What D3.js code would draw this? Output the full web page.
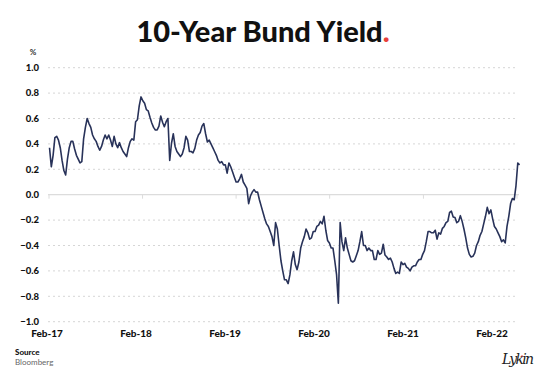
<!DOCTYPE html>
<html>
<head>
<meta charset="utf-8">
<script src="https://cdn.jsdelivr.net/npm/d3@7"></script>
<style>
html,body{margin:0;padding:0;background:#fff;}
svg{display:block;}
</style>
</head>
<body>
<svg id="chart" width="550" height="382"></svg>
<script>
// ---- data ----
const startDate = "2017-02-03"; // first weekly observation
const yieldValues = [
0.37,0.22,0.31,0.45,0.46,0.43,0.37,0.27,0.19,0.155,
0.28,0.37,0.42,0.42,0.36,0.31,0.28,0.25,0.26,0.44,
0.53,0.60,0.56,0.53,0.47,0.44,0.42,0.38,0.35,0.38,
0.43,0.47,0.44,0.47,0.43,0.38,0.46,0.40,0.37,0.41,
0.37,0.34,0.32,0.30,0.37,0.42,0.44,0.43,0.575,0.59,
0.70,0.77,0.74,0.72,0.67,0.66,0.61,0.565,0.53,0.51,
0.51,0.54,0.62,0.57,0.535,0.575,0.60,0.27,0.405,0.48,
0.38,0.34,0.32,0.30,0.32,0.37,0.46,0.43,0.34,0.34,
0.33,0.365,0.43,0.47,0.49,0.54,0.56,0.48,0.415,0.43,
0.40,0.37,0.34,0.31,0.27,0.25,0.26,0.235,0.235,0.17,
0.25,0.22,0.18,0.14,0.10,0.10,0.125,0.16,0.10,0.075,
0.05,-0.07,-0.01,0.02,0.04,0.02,0.02,-0.04,-0.09,-0.14,
-0.19,-0.23,-0.25,-0.29,-0.33,-0.40,-0.22,-0.27,-0.40,-0.52,
-0.60,-0.67,-0.67,-0.70,-0.63,-0.52,-0.45,-0.55,-0.59,-0.53,
-0.42,-0.37,-0.33,-0.27,-0.30,-0.35,-0.34,-0.29,-0.29,-0.25,
-0.24,-0.21,-0.23,-0.17,-0.28,-0.36,-0.38,-0.42,-0.42,-0.52,
-0.63,-0.855,-0.22,-0.37,-0.44,-0.34,-0.42,-0.47,-0.52,-0.53,
-0.52,-0.48,-0.44,-0.37,-0.29,-0.40,-0.40,-0.44,-0.42,-0.44,
-0.44,-0.51,-0.51,-0.44,-0.47,-0.46,-0.39,-0.475,-0.49,-0.51,
-0.50,-0.53,-0.58,-0.62,-0.61,-0.62,-0.53,-0.55,-0.54,-0.57,
-0.58,-0.60,-0.57,-0.56,-0.56,-0.53,-0.51,-0.51,-0.47,-0.44,
-0.37,-0.29,-0.29,-0.30,-0.30,-0.28,-0.35,-0.30,-0.31,-0.265,
-0.25,-0.22,-0.21,-0.14,-0.13,-0.175,-0.18,-0.22,-0.21,-0.165,
-0.21,-0.27,-0.34,-0.42,-0.47,-0.49,-0.485,-0.46,-0.40,-0.37,
-0.32,-0.29,-0.23,-0.17,-0.10,-0.15,-0.12,-0.19,-0.25,-0.27,
-0.30,-0.33,-0.37,-0.355,-0.38,-0.25,-0.17,-0.07,-0.03,-0.04,
0.07,0.25,0.235
];
const xTickDates = ["2017-02-01","2018-02-01","2019-02-01","2020-02-01","2021-02-01","2022-02-01"];
const xTickLabels = ["Feb-17","Feb-18","Feb-19","Feb-20","Feb-21","Feb-22"];
const yTicks = [1.0,0.8,0.6,0.4,0.2,0.0,-0.2,-0.4,-0.6,-0.8,-1.0];

(function(){
// ---- setup ----
const parse = d3.utcParse("%Y-%m-%d");
const t0 = parse(startDate);
const series = yieldValues.map((v,i)=>({date:d3.utcWeek.offset(t0,i), value:v}));

const svg = d3.select("#chart");
const mLeft = 49, mRight = 517, mTop = 67.7, mBottom = 321.7;

const x = d3.scaleUtc().domain([parse(xTickDates[0]), parse(xTickDates[xTickDates.length-1])]).range([mLeft,mRight]);
const y = d3.scaleLinear().domain([-1,1]).range([mBottom, mTop]);
const xLabel = d3.scalePoint().domain(xTickLabels).range([47,492]);

const font = "Lato, 'Open Sans', sans-serif";

// title
const title = svg.append("text")
  .attr("x",263).attr("y",41.5).attr("text-anchor","middle")
  .style("font-family",font).style("font-weight",900).style("font-size","29px")
  .attr("fill","#111");
title.append("tspan").text("10-Year Bund Yield");
title.append("tspan").attr("fill","#e8403a").text(".");

// gridlines
svg.append("g").selectAll("line").data(yTicks.filter(d=>d!==0)).join("line")
  .attr("x1",mLeft-1).attr("x2",mRight+1)
  .attr("y1",d=>y(d)).attr("y2",d=>y(d))
  .attr("stroke","#d6d6d6").attr("stroke-width",1).attr("stroke-dasharray","2,3");

// zero line
svg.append("line").attr("x1",mLeft-1).attr("x2",mRight+2).attr("y1",y(0)).attr("y2",y(0))
  .attr("stroke","#dcdcdc").attr("stroke-width",1.2);

// x tick marks on zero line
svg.append("g").selectAll("line").data(xTickDates).join("line")
  .attr("x1",d=>x(parse(d))).attr("x2",d=>x(parse(d)))
  .attr("y1",y(0)).attr("y2",y(0)+4)
  .attr("stroke","#dcdcdc").attr("stroke-width",1);

// y labels
svg.append("g").selectAll("text").data(yTicks).join("text")
  .attr("x",39).attr("y",d=>y(d)).attr("dy","0.35em").attr("text-anchor","end")
  .style("font-family",font).style("font-weight",900).style("font-size","9.5px")
  .attr("fill","#111").text(d=>d3.format(".1f")(d));

svg.append("text").attr("x",33).attr("y",55).attr("text-anchor","middle")
  .style("font-family",font).style("font-weight",700).style("font-size","8px")
  .attr("fill","#333").text("%");

// x labels
svg.append("g").selectAll("text").data(xTickLabels).join("text")
  .attr("x",d=>xLabel(d)).attr("y",337).attr("text-anchor","middle")
  .style("font-family",font).style("font-weight",900).style("font-size","10px")
  .attr("fill","#111").text(d=>d);

// line
const line = d3.line().x(d=>x(d.date)).y(d=>y(d.value)).curve(d3.curveLinear);
svg.append("path").datum(series)
  .attr("d",line).attr("fill","none")
  .attr("stroke","#283259").attr("stroke-width",1.6).attr("stroke-linejoin","round");

// source
svg.append("text").attr("x",15).attr("y",355)
  .style("font-family",font).style("font-weight",900).style("font-size","8px")
  .attr("fill","#111").text("Source");
svg.append("text").attr("x",15).attr("y",365)
  .style("font-family",font).style("font-weight",400).style("font-size","8px")
  .attr("fill","#666").text("Bloomberg");

// signature
svg.append("text").attr("x",502).attr("y",364)
  .style("font-family","'DejaVu Serif', serif").style("font-style","italic").style("font-size","14px")
  .attr("fill","#222").attr("textLength",32).text("Lykin");
svg.append("circle").attr("cx",522).attr("cy",356).attr("r",0.8).attr("fill","#e8403a");
})();
</script>
</body>
</html>
